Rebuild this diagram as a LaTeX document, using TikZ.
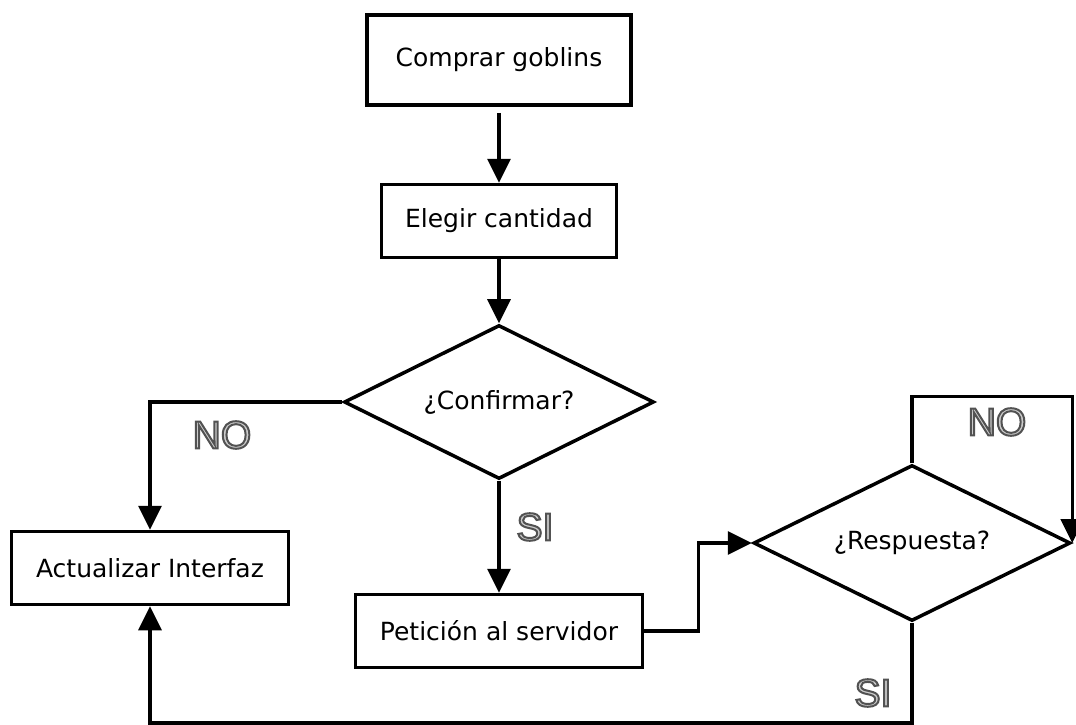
\documentclass[tikz,border=0pt]{standalone}
\usepackage{fontspec}
\setmainfont{DejaVu Sans}
\newfontfamily\etichettafont{Liberation Sans}
\usetikzlibrary{shapes.geometric,arrows.meta}
% Testo cavo (contorno grigio scuro, interno grigio chiaro)
\newcommand{\cavo}[1]{\special{pdf:literal direct 0.8 g 0.32 G 2 w 2 Tr}#1\special{pdf:literal direct 0 Tr}}

\begin{document}
\begin{tikzpicture}[x=1pt, y=-1pt, line width=3.5pt]
	% Stili per blocchi, rombi, frecce ed etichette
	\tikzset{blocco/.style={rectangle, draw, inner sep=0pt, font=\fontsize{25}{30}\selectfont},
		rombo/.style={diamond, draw, aspect=2, inner sep=0pt, font=\fontsize{25}{30}\selectfont},
		freccia/.style={-{Triangle[length=24pt, width=23pt]}},
		etichetta/.style={font=\etichettafont\fontsize{39}{40}\selectfont}}
	\useasboundingbox (0,0) rectangle (1076,725);
	
	% Blocchi del diagramma di flusso
	\node[blocco, minimum width=264pt, minimum height=90pt] (comprar) at (499,60) {Comprar goblins};
	\node[blocco, minimum width=235pt, minimum height=73pt] (elegir) at (499,221) {Elegir cantidad};
	\node[rombo, minimum width=310pt, minimum height=154pt] (confirmar) at (499,402) {¿Confirmar?};
	\node[blocco, minimum width=277pt, minimum height=73pt] (actualizar) at (150,568) {Actualizar Interfaz};
	\node[blocco, minimum width=287pt, minimum height=73pt] (peticion) at (499,631) {Petición al servidor};
	\node[rombo, minimum width=317pt, minimum height=156pt] (respuesta) at (912,543) {¿Respuesta?};
	
	% Etichette dei rami
	\node[etichetta] (no1) at (222,435) {\cavo{NO}};
	\node[etichetta] (si1) at (535,527) {\cavo{SI}};
	\node[etichetta] (no2) at (997,422) {\cavo{NO}};
	\node[etichetta] (si2) at (873,693) {\cavo{SI}};
	
	% Collegamenti
	\draw[freccia, shorten <=6pt] (comprar) -- (elegir);
	\draw[freccia] (elegir) -- (confirmar);
	\draw[freccia] (confirmar.west) -| (actualizar.north);
	\draw[freccia] (confirmar.south) -- (peticion.north);
	\draw[freccia] (peticion.east) -- ++(54,0) |- (respuesta.west);
	\draw[freccia] (respuesta.north) -- ++(0,-67) -| (respuesta.east);
	\draw[freccia] (respuesta.south) -- ++(0,100) -| (actualizar.south);
\end{tikzpicture}
\end{document}
